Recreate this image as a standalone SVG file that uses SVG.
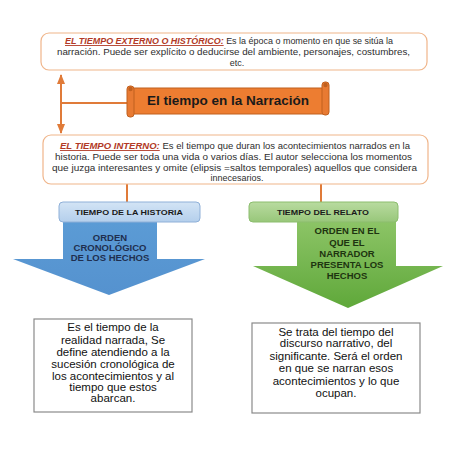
<svg xmlns="http://www.w3.org/2000/svg" width="453" height="453" viewBox="0 0 453 453">
<defs>
<style>
.box{fill:#ffffff;stroke:#f0b58a;stroke-width:1.2}
.plain{fill:#ffffff;stroke:#8a8a8a;stroke-width:1.2}
.t{font-family:"Liberation Sans",Arial,sans-serif;fill:#2e2e2e;font-size:9px}
.h{font-weight:bold;font-style:italic;text-decoration:underline;fill:#b23a26}
.b{font-family:"Liberation Sans",Arial,sans-serif;font-weight:bold;text-anchor:middle}
.body{font-family:"Liberation Sans",Arial,sans-serif;font-size:11.5px;fill:#111;text-anchor:middle}
.conn{stroke:#e07b39;stroke-width:2;fill:none}
</style>
<marker id="ah" viewBox="0 0 10 10" refX="9" refY="5" markerWidth="5" markerHeight="5" orient="auto-start-reverse">
<path d="M0,1 L10,5 L0,9 z" fill="#e07b39"/>
</marker>
<linearGradient id="gBlue" x1="0" y1="0" x2="0" y2="1">
<stop offset="0" stop-color="#5b9bd5"/>
<stop offset="1" stop-color="#5592cf"/>
</linearGradient>
<linearGradient id="gGreen" x1="0" y1="0" x2="0" y2="1">
<stop offset="0" stop-color="#8cc466"/>
<stop offset="1" stop-color="#5fa83a"/>
</linearGradient>
<linearGradient id="gHB" x1="0" y1="0" x2="0" y2="1">
<stop offset="0" stop-color="#d3e4f5"/>
<stop offset="1" stop-color="#b4cfec"/>
</linearGradient>
<linearGradient id="gHG" x1="0" y1="0" x2="0" y2="1">
<stop offset="0" stop-color="#b9dba0"/>
<stop offset="1" stop-color="#98c77a"/>
</linearGradient>
</defs>
<rect width="453" height="453" fill="#ffffff"/>

<g id="connectors">
<line class="conn" x1="61" y1="75" x2="61" y2="133" stroke-width="1.8" marker-start="url(#ah)" marker-end="url(#ah)"/>
<line class="conn" x1="61" y1="103" x2="128" y2="103" stroke-width="1.8"/>
<line class="conn" x1="127" y1="184" x2="127" y2="202"/>
<line class="conn" x1="321" y1="184" x2="321" y2="202"/>
</g>

<g id="externo">
<rect class="box" x="41" y="33" width="386" height="37" rx="8"/>
<text class="t" x="65" y="44" textLength="328" lengthAdjust="spacingAndGlyphs"><tspan class="h">EL TIEMPO EXTERNO O HISTÓRICO:</tspan> Es la época o momento en que se sitúa la</text>
<text class="t" x="57" y="55" textLength="353" lengthAdjust="spacingAndGlyphs">narración. Puede ser explícito o deducirse del ambiente, personajes, costumbres,</text>
<text class="t" x="237" y="66" text-anchor="middle">etc.</text>
</g>

<g id="titulo">
<rect x="131" y="88" width="195" height="26" fill="#ed7d31" stroke="#c0601f" stroke-width="1"/>
<rect x="127" y="86" width="7" height="31" rx="3" fill="#e87a32" stroke="#c0601f" stroke-width="1"/>
<circle cx="130.5" cy="89" r="2.2" fill="#c0601f"/>
<rect x="322" y="82" width="7" height="33" rx="3" fill="#e87a32" stroke="#c0601f" stroke-width="1"/>
<circle cx="325.5" cy="85" r="2.2" fill="#c0601f"/>
<text class="b" x="228" y="105" font-size="13" fill="#1a1a1a" textLength="162" lengthAdjust="spacingAndGlyphs">El tiempo en la Narración</text>
</g>

<g id="interno">
<rect class="box" x="43" y="135" width="385" height="49" rx="8"/>
<text class="t" x="60" y="149" textLength="350" lengthAdjust="spacingAndGlyphs"><tspan class="h">EL TIEMPO INTERNO:</tspan> Es el tiempo que duran los acontecimientos narrados en la</text>
<text class="t" x="55" y="160" textLength="357" lengthAdjust="spacingAndGlyphs">historia. Puede ser toda una vida o varios días. El autor selecciona los momentos</text>
<text class="t" x="52" y="171" textLength="365" lengthAdjust="spacingAndGlyphs">que juzga interesantes y omite (elipsis =saltos temporales) aquellos que considera</text>
<text class="t" x="237" y="181" text-anchor="middle">innecesarios.</text>
</g>

<g id="historia-arrow">
<polygon points="63,222 157,222 157,259 205,259 109,295 13,259 63,259" fill="url(#gBlue)"/>
<text class="b" font-size="9.5" fill="#1f2f4f"><tspan x="110" y="241">ORDEN</tspan><tspan x="110" y="251">CRONOLÓGICO</tspan><tspan x="110" y="261">DE LOS HECHOS</tspan></text>
</g>

<g id="historia-header">
<rect x="59" y="202" width="141" height="20" rx="4" fill="url(#gHB)" stroke="#8fb0d8" stroke-width="1"/>
<text class="b" x="129" y="215" font-size="7.5" fill="#1a1a1a" textLength="108" lengthAdjust="spacingAndGlyphs">TIEMPO DE LA HISTORIA</text>
</g>

<g id="relato-arrow">
<polygon points="297,222 396,222 396,266 443,266 348,308 253,266 297,266" fill="url(#gGreen)"/>
<text class="b" font-size="9.5" fill="#1e3410"><tspan x="347" y="234">ORDEN EN EL</tspan><tspan x="347" y="246">QUE EL</tspan><tspan x="347" y="257">NARRADOR</tspan><tspan x="347" y="268">PRESENTA  LOS</tspan><tspan x="347" y="279">HECHOS</tspan></text>
</g>

<g id="relato-header">
<rect x="249" y="202" width="149" height="20" rx="4" fill="url(#gHG)" stroke="#8cbd6e" stroke-width="1"/>
<text class="b" x="323" y="215" font-size="7.5" fill="#1a1a1a" textLength="92" lengthAdjust="spacingAndGlyphs">TIEMPO DEL RELATO</text>
</g>

<g id="historia-def">
<rect class="plain" x="34" y="319" width="158" height="93"/>
<text class="body"><tspan x="113" y="331">Es el tiempo de la</tspan><tspan x="113" y="344">realidad narrada, Se</tspan><tspan x="113" y="356">define atendiendo a la</tspan><tspan x="113" y="368">sucesión cronológica de</tspan><tspan x="113" y="380">los acontecimientos y al</tspan><tspan x="113" y="391">tiempo que estos</tspan><tspan x="113" y="402">abarcan.</tspan></text>
</g>

<g id="relato-def">
<rect class="plain" x="252" y="323" width="168" height="90"/>
<text class="body"><tspan x="336" y="336">Se trata del tiempo del</tspan><tspan x="336" y="347">discurso narrativo, del</tspan><tspan x="336" y="360">significante. Será el orden</tspan><tspan x="336" y="372">en que se narran esos</tspan><tspan x="336" y="385">acontecimientos y lo que</tspan><tspan x="336" y="397">ocupan.</tspan></text>
</g>
</svg>
